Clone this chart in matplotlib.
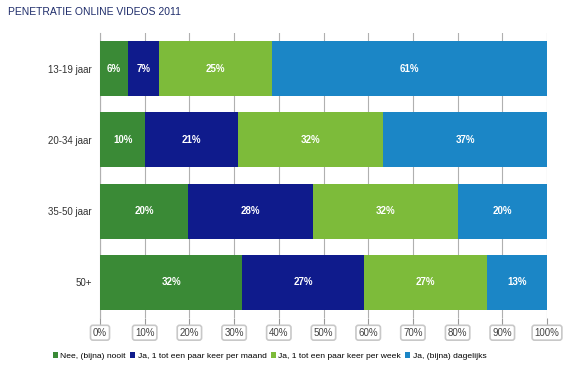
import matplotlib
matplotlib.use("Agg")
import matplotlib.pyplot as plt
import numpy as np

groups = ["13-19 jaar", "20-34 jaar", "35-50 jaar", "50+"]
series = ["Nee, (bijna) nooit", "Ja, 1 tot een paar keer per maand",
          "Ja, 1 tot een paar keer per week", "Ja, (bijna) dagelijks"]
values = [
    [6.3, 10.1, 19.7, 31.8],
    [6.8, 20.8, 28.0, 27.3],
    [25.3, 32.4, 32.4, 27.5],
    [61.6, 36.7, 19.9, 13.4],
]
labels = [
    ["6%", "10%", "20%", "32%"],
    ["7%", "21%", "28%", "27%"],
    ["25%", "32%", "32%", "27%"],
    ["61%", "37%", "20%", "13%"],
]
colors = ["#3a8a36", "#0f1b8c", "#7dbb3a", "#1b86c6"]
ticks = np.arange(0, 101, 10)

plt.rcParams['font.family'] = ['Liberation Sans', 'DejaVu Sans']

fig = plt.figure(figsize=(5.66, 3.67), dpi=100)
ax = fig.add_axes([100 / 566, 1 - 318 / 367, 447 / 566, 285 / 367])

y = np.arange(len(groups))
left = np.zeros(len(groups))
for vals, labs, col, name in zip(values, labels, colors, series):
    vals = np.array(vals)
    ax.barh(y, vals, left=left, height=0.77, color=col, label=name, zorder=3)
    for yi, l, v, t in zip(y, left, vals, labs):
        ax.text(l + v / 2, yi, t, ha="center", va="center", color="white",
                fontsize=7, fontweight="bold", zorder=4)
    left += vals

ax.set_xlim(0, 100)
ax.set_ylim(len(groups) - 0.5, -0.5)
ax.set_yticks(y)
ax.set_yticklabels(groups, fontsize=7, color="#333333")
ax.set_xticks(ticks)
ax.set_xticklabels([f"{t}%" for t in ticks], fontsize=7, color="#444444")
for lab in ax.get_xticklabels():
    lab.set_bbox(dict(boxstyle="round,pad=0.25", fc="white", ec="#c8c8c8", lw=1.2))
ax.tick_params(axis="y", length=0, pad=6)
ax.tick_params(axis="x", length=5, color="#999999", pad=2)
ax.grid(axis="x", color="#b0b0b0", lw=0.8, zorder=0)
for s in ["top", "right", "bottom"]:
    ax.spines[s].set_visible(False)
ax.spines["left"].set_color("#b0b0b0")

fig.text(8 / 566, 1 - 12 / 367, "PENETRATIE ONLINE VIDEOS 2011", fontsize=7.5,
         color="#1f2d6b", va="center", ha="left")

fig.legend(loc="center left", bbox_to_anchor=(45 / 566, 1 - 356 / 367), ncol=4, frameon=False,
           fontsize=6.1, handlelength=0.6, handleheight=0.6, handletextpad=0.3,
           columnspacing=0.5)

fig.savefig("out.png", dpi=100)
